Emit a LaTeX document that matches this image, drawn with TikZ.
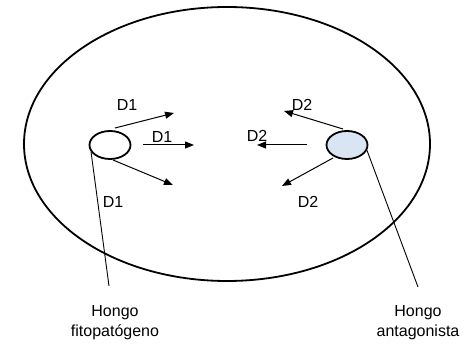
\documentclass[tikz,border=0pt]{standalone}
\usepackage{fontspec}
\setmainfont{Liberation Sans}
\usetikzlibrary{shapes.geometric,arrows.meta}
\definecolor{fungusblue}{RGB}{218,229,243}
\tikzset{
  dish/.style={draw, ellipse, line width=1.8pt, inner sep=0pt},
  colony/.style={draw, ellipse, line width=1.8pt, inner sep=0pt,
    minimum width=41pt, minimum height=28pt},
  diffuse/.style={line width=1pt, -{Triangle[length=9pt,width=7pt]}},
  pointer/.style={line width=0.9pt},
  lbl/.style={font=\fontsize{16}{20}\selectfont, inner sep=0pt},
  caption/.style={font=\fontsize{16}{20}\selectfont, align=center, inner sep=0pt}
}
\begin{document}
\begin{tikzpicture}[x=1pt,y=-1pt]
  \useasboundingbox (0,0) rectangle (471,344);

  % Petri dish
  \node[dish, minimum width=406pt, minimum height=274pt] (dish) at (227,144) {};

  % the two fungal colonies
  \node[colony, fill=white] (patho) at (110,145) {};
  \node[colony, fill=fungusblue] (antag) at (347,145) {};

  % diffusion of the pathogen's metabolites
  \coordinate (p1s) at (115,128);
  \coordinate (p1e) at (174,113);
  \coordinate (p2s) at (143,145);
  \coordinate (p2e) at (194,145);
  \coordinate (p3s) at (113,160);
  \coordinate (p3e) at (173,185);
  \draw[diffuse] (p1s) -- (p1e);
  \draw[diffuse] (p2s) -- (p2e);
  \draw[diffuse] (p3s) -- (p3e);

  % diffusion of the antagonist's metabolites
  \coordinate (a1s) at (343,129);
  \coordinate (a1e) at (284,111);
  \coordinate (a2s) at (307,145);
  \coordinate (a2e) at (257,145);
  \coordinate (a3s) at (333,158);
  \coordinate (a3e) at (282,186);
  \draw[diffuse] (a1s) -- (a1e);
  \draw[diffuse] (a2s) -- (a2e);
  \draw[diffuse] (a3s) -- (a3e);

  % labels of the diffusion fronts
  \node[lbl] (d1a) at (127,105) {D1};
  \node[lbl] (d1b) at (162,137) {D1};
  \node[lbl] (d1c) at (113,202) {D1};
  \node[lbl] (d2a) at (302,105) {D2};
  \node[lbl] (d2b) at (257,136) {D2};
  \node[lbl] (d2c) at (308,202) {D2};

  % captions and their leader lines
  \node[caption] (capP) at (115,323) {Hongo\\fitopatógeno};
  \node[caption] (capA) at (418,323) {Hongo\\antagonista};
  \coordinate (lp) at (109,286);
  \coordinate (la) at (418,287);
  \draw[pointer] (patho.200) -- (lp);
  \draw[pointer] (antag.-15) -- (la);
\end{tikzpicture}
\end{document}
